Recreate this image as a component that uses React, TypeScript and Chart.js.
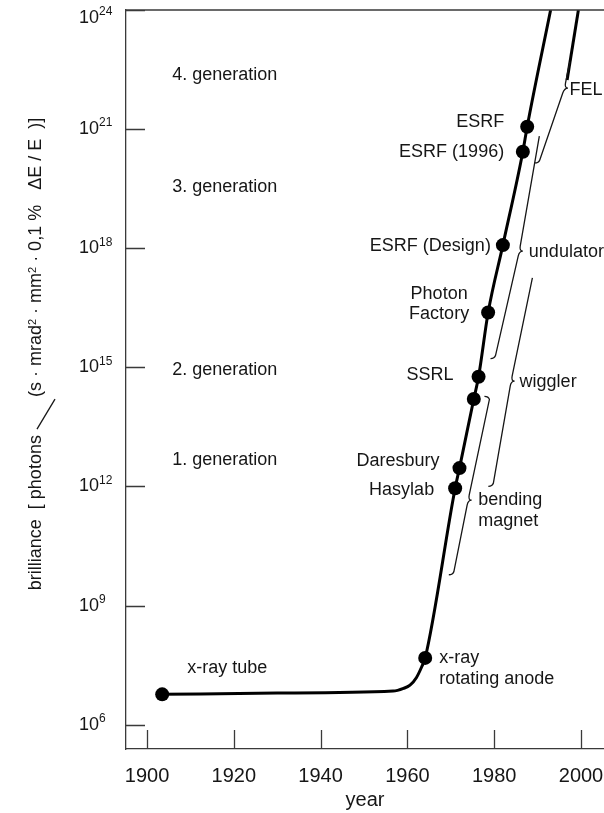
import React, { useEffect, useRef } from "react";
import { Chart, registerables } from "chart.js";

Chart.register(...registerables);

const FONT = '"Liberation Sans", Arial, Helvetica, sans-serif';
const INK = "#161616";
const AXIS = "#3a3a3a";

// Light sources plotted as dots (year, brilliance)
const SOURCE_LABELS = [
  "x-ray tube",
  "x-ray\nrotating anode",
  "Hasylab",
  "Daresbury",
  "",
  "SSRL",
  "Photon\nFactory",
  "ESRF (Design)",
  "ESRF (1996)",
  "ESRF",
];
const SOURCE_YEARS = [1903.5, 1964.1, 1971.0, 1972.0, 1975.3, 1976.4, 1978.6, 1982.0, 1986.6, 1987.6];
const SOURCE_BRILLIANCE = [5.8e6, 4.8e7, 9.0e11, 2.9e12, 1.6e14, 5.8e14, 2.4e16, 1.2e18, 2.7e20, 1.15e21];

// Trace of the main brilliance curve
const CURVE_YEARS = [
  1903.5, 1930, 1956.7, 1959.1, 1960.6, 1962.1, 1963.3, 1964.1, 1971.0, 1972.0, 1975.3, 1976.4, 1978.6, 1982.0,
  1986.6, 1987.6, 1993.0,
];
const CURVE_BRILLIANCE = [
  5.8e6, 6.25e6, 7.0e6, 8.2e6, 9.9e6, 1.55e7, 2.88e7, 4.8e7, 9.0e11, 2.9e12, 1.6e14, 5.8e14, 2.4e16, 1.2e18,
  2.7e20, 1.15e21, 1e24,
];

// Free-electron laser line
const FEL_YEARS = [1996.8, 1999.4];
const FEL_BRILLIANCE = [1.73e22, 1e24];

// Braces marking the insertion-device ranges
const BRACE_LABELS = ["FEL", "undulator", "wiggler", "bending\nmagnet"];
const BRACE_TOP_YEARS = [1997.4, 1990.4, 1988.8, 1978.9];
const BRACE_TOP = [4.9e22, 6.7e20, 1.8e17, 1.56e14];
const BRACE_TIP_YEARS = [1997.0, 1986.6, 1984.7, 1974.8];
const BRACE_TIP = [1.08e22, 8.5e17, 4.5e14, 4.5e11];
const BRACE_BOTTOM_YEARS = [1990.5, 1980.3, 1979.8, 1970.7];
const BRACE_BOTTOM = [1.67e20, 1.98e15, 1.2e12, 7.1e9];
const BRACE_TOP_HOOK = [false, false, false, true];

// Generation captions
const GEN_LABELS = ["4. generation", "3. generation", "2. generation", "1. generation"];
const GEN_LEVELS = [2.3e22, 3.5e19, 8.5e14, 4.7e12];
const GEN_YEAR = 1905.8;

// Axes
const X_TICKS = [1900, 1920, 1940, 1960, 1980, 2000];
const Y_TICK_EXPONENTS = [6, 9, 12, 15, 18, 21, 24];
const X_MIN = 1895.16;
const X_MAX = 2005.3;
const Y_MIN = 2.44e5;
const Y_MAX = 1e24;

// Label placement relative to each dot
const SOURCE_LABEL_LAYOUT = [
  { dx: 25, dy: -26, align: "left" },
  { dx: 14, dy: 0.6, align: "left" },
  { dx: -21, dy: 2, align: "right" },
  { dx: -20, dy: -6.6, align: "right" },
  { dx: 0, dy: 0, align: "left" },
  { dx: -25, dy: -2, align: "right" },
  { dx: -49, dy: -19, align: "center" },
  { dx: -12, dy: 1, align: "right" },
  { dx: -18.7, dy: 0, align: "right" },
  { dx: -23, dy: -5, align: "right" },
];
const BRACE_LABEL_DX = [1.5, 6, 5, 6.6];
const BRACE_LABEL_DY = [2, 1, 1, 0];
const LINE_GAP = 20.5;

function drawLines(ctx: CanvasRenderingContext2D, text: string, x: number, y: number, align: CanvasTextAlign) {
  ctx.textAlign = align;
  text.split("\n").forEach((line, i) => ctx.fillText(line, x, y + i * LINE_GAP));
}

function drawBrace(
  ctx: CanvasRenderingContext2D,
  top: { x: number; y: number },
  tip: { x: number; y: number },
  bottom: { x: number; y: number },
  hookTop: boolean
) {
  const notch = 3.5;
  const armX = tip.x - notch;
  const ut = (tip.y - 5 - top.y) / (tip.y - top.y);
  const ux = top.x + (armX - top.x) * ut;
  const lt = 5 / (bottom.y - tip.y);
  const lx = armX + (bottom.x - armX) * lt;
  ctx.beginPath();
  if (hookTop) {
    ctx.moveTo(top.x - 5, top.y - 3);
    ctx.quadraticCurveTo(top.x - 1, top.y - 3, top.x, top.y);
  } else {
    ctx.moveTo(top.x, top.y);
  }
  ctx.lineTo(ux, tip.y - 5);
  ctx.quadraticCurveTo(armX, tip.y, tip.x, tip.y);
  ctx.quadraticCurveTo(armX, tip.y, lx, tip.y + 5);
  ctx.lineTo(bottom.x, bottom.y);
  ctx.quadraticCurveTo(bottom.x - 1, bottom.y + 3, bottom.x - 5, bottom.y + 3);
  ctx.stroke();
}

function drawYTitle(ctx: CanvasRenderingContext2D, cx: number, cy: number) {
  const main = `18px ${FONT}`;
  const small = `11px ${FONT}`;
  const parts: { text?: string; kind: string }[] = [
    { text: "brilliance  [ photons ", kind: "text" },
    { kind: "slash" },
    { text: "(s · mrad", kind: "text" },
    { text: "2", kind: "sup" },
    { text: " · mm", kind: "text" },
    { text: "2", kind: "sup" },
    { text: " · 0,1 %   ΔE / E  )]", kind: "text" },
  ];
  const slashW = 30;
  const widths = parts.map((p) => {
    if (p.kind === "slash") return slashW + 3;
    ctx.font = p.kind === "sup" ? small : main;
    return ctx.measureText(p.text || "").width;
  });
  const total = widths.reduce((a, b) => a + b, 0);
  ctx.save();
  ctx.translate(cx, cy);
  ctx.rotate(-Math.PI / 2);
  ctx.fillStyle = INK;
  ctx.strokeStyle = INK;
  ctx.textAlign = "left";
  ctx.textBaseline = "alphabetic";
  let x = -total / 2;
  parts.forEach((p, i) => {
    if (p.kind === "slash") {
      ctx.lineWidth = 1.3;
      ctx.beginPath();
      ctx.moveTo(x + 1, 2);
      ctx.lineTo(x + 1 + slashW, 20);
      ctx.stroke();
    } else if (p.kind === "sup") {
      ctx.font = small;
      ctx.fillText(p.text || "", x, 0.5);
    } else {
      ctx.font = main;
      ctx.fillText(p.text || "", x, 6.4);
    }
    x += widths[i];
  });
  ctx.restore();
}

const decorations = {
  id: "decorations",
  afterDraw(chart: any) {
    const ctx: CanvasRenderingContext2D = chart.ctx;
    const xs = chart.scales.x;
    const ys = chart.scales.y;
    const area = chart.chartArea;
    const at = (year: number, v: number) => ({ x: xs.getPixelForValue(year), y: ys.getPixelForValue(v) });

    ctx.save();
    // frame top and inward tick marks
    ctx.strokeStyle = AXIS;
    ctx.lineWidth = 1.3;
    ctx.beginPath();
    ctx.moveTo(area.left, area.top);
    ctx.lineTo(area.right, area.top);
    xs.ticks.forEach((t: any) => {
      const p = Math.round(xs.getPixelForValue(t.value)) + 0.5;
      ctx.moveTo(p, area.bottom);
      ctx.lineTo(p, area.bottom - 19);
    });
    ys.ticks.forEach((t: any) => {
      const p = Math.round(ys.getPixelForValue(t.value)) + 0.5;
      ctx.moveTo(area.left, p);
      ctx.lineTo(area.left + 19, p);
    });
    ctx.stroke();

    // y tick labels as powers of ten
    ctx.fillStyle = INK;
    ctx.textBaseline = "middle";
    ctx.textAlign = "left";
    Y_TICK_EXPONENTS.forEach((e) => {
      const py = Math.max(ys.getPixelForValue(Math.pow(10, e)), area.top + 8);
      ctx.font = `18px ${FONT}`;
      ctx.fillText("10", 79, py);
      const w = ctx.measureText("10").width;
      ctx.font = `12px ${FONT}`;
      ctx.fillText(String(e), 79 + w, py - 6);
    });

    drawYTitle(ctx, 35, 354);

    // braces
    ctx.strokeStyle = INK;
    ctx.lineWidth = 1.3;
    BRACE_LABELS.forEach((_, i) => {
      drawBrace(
        ctx,
        at(BRACE_TOP_YEARS[i], BRACE_TOP[i]),
        at(BRACE_TIP_YEARS[i], BRACE_TIP[i]),
        at(BRACE_BOTTOM_YEARS[i], BRACE_BOTTOM[i]),
        BRACE_TOP_HOOK[i]
      );
    });

    // annotations
    ctx.font = `18px ${FONT}`;
    ctx.fillStyle = INK;
    ctx.textBaseline = "middle";
    BRACE_LABELS.forEach((label, i) => {
      const p = at(BRACE_TIP_YEARS[i], BRACE_TIP[i]);
      drawLines(ctx, label, p.x + BRACE_LABEL_DX[i], p.y + BRACE_LABEL_DY[i], "left");
    });
    SOURCE_LABELS.forEach((label, i) => {
      if (!label) return;
      const p = at(SOURCE_YEARS[i], SOURCE_BRILLIANCE[i]);
      const l = SOURCE_LABEL_LAYOUT[i];
      drawLines(ctx, label, p.x + l.dx, p.y + l.dy, l.align as CanvasTextAlign);
    });
    GEN_LABELS.forEach((label, i) => {
      const p = at(GEN_YEAR, GEN_LEVELS[i]);
      drawLines(ctx, label, p.x, p.y, "left");
    });
    ctx.restore();
  },
};

export default function App() {
  const canvasRef = useRef<HTMLCanvasElement>(null);

  useEffect(() => {
    const canvas = canvasRef.current;
    if (!canvas) return;
    const chart = new Chart(canvas, {
      type: "line",
      data: {
        datasets: [
          {
            label: "sources",
            data: SOURCE_YEARS.map((x, i) => ({ x, y: SOURCE_BRILLIANCE[i] })),
            showLine: false,
            pointRadius: 7,
            pointBackgroundColor: "#000",
            pointBorderWidth: 0,
            borderColor: "#000",
            clip: false,
          },
          {
            label: "FEL",
            data: FEL_YEARS.map((x, i) => ({ x, y: FEL_BRILLIANCE[i] })),
            borderColor: "#000",
            borderWidth: 3,
            pointRadius: 0,
          },
          {
            label: "brilliance",
            data: CURVE_YEARS.map((x, i) => ({ x, y: CURVE_BRILLIANCE[i] })),
            borderColor: "#000",
            borderWidth: 3,
            pointRadius: 0,
            cubicInterpolationMode: "monotone",
            tension: 0.4,
          },
        ],
      },
      options: {
        animation: false,
        responsive: false,
        devicePixelRatio: 1,
        layout: { autoPadding: false, padding: { top: 10, right: 0, left: 0, bottom: 0 } },
        plugins: { legend: { display: false }, tooltip: { enabled: false } },
        scales: {
          x: {
            type: "linear",
            min: X_MIN,
            max: X_MAX,
            afterBuildTicks: (s: any) => {
              s.ticks = X_TICKS.map((v) => ({ value: v }));
            },
            afterFit: (s: any) => {
              s.height = 64;
              s.paddingLeft = 0;
              s.paddingRight = 0;
            },
            grid: { display: false, drawTicks: false },
            border: { display: true, color: AXIS, width: 1.3 },
            ticks: {
              font: { family: FONT, size: 20 },
              color: INK,
              padding: 15,
              maxRotation: 0,
              autoSkip: false,
              callback: (v: any) => String(v),
            },
            title: {
              display: true,
              text: "year",
              font: { family: FONT, size: 20 },
              color: INK,
              padding: { top: 0, bottom: 1 },
            },
          },
          y: {
            type: "logarithmic",
            min: Y_MIN,
            max: Y_MAX,
            afterBuildTicks: (s: any) => {
              s.ticks = Y_TICK_EXPONENTS.map((e) => ({ value: Math.pow(10, e) }));
            },
            afterFit: (s: any) => {
              s.width = 126;
              s.paddingTop = 0;
              s.paddingBottom = 0;
            },
            grid: { display: false, drawTicks: false },
            border: { display: true, color: AXIS, width: 1.3 },
            ticks: { display: false },
          },
        },
      },
      plugins: [decorations],
    } as any);
    return () => chart.destroy();
  }, []);

  return (
    <div style={{ position: "fixed", left: 0, top: 0, width: 604, height: 813, background: "#fff" }}>
      <canvas ref={canvasRef} width={604} height={813} style={{ display: "block", width: 604, height: 813 }} />
    </div>
  );
}
